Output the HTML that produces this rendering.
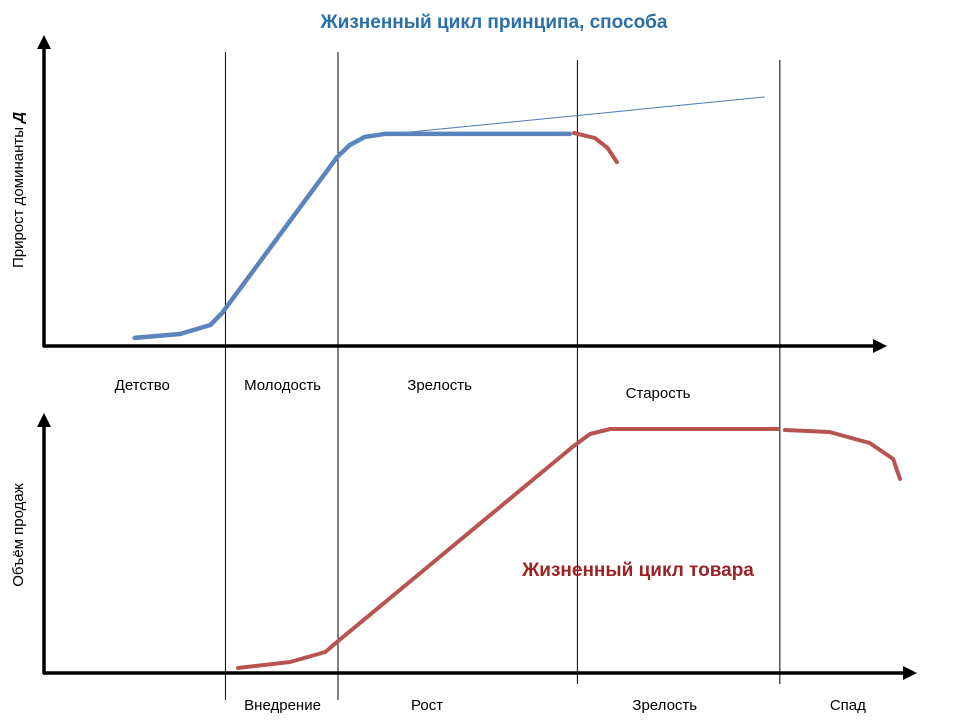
<!DOCTYPE html>
<html><head><meta charset="utf-8">
<style>
html,body{margin:0;padding:0;background:#fff;}
svg{display:block;font-family:"Liberation Sans","DejaVu Sans",sans-serif;}
</style></head>
<body>
<svg id="chart" width="960" height="720" viewBox="0 0 960 720">
<defs>
<marker id="arr" viewBox="0 0 10 10" refX="5" refY="5" markerWidth="4" markerHeight="4" orient="auto"><path d="M0,0 L10,5 L0,10 z" fill="#000"/></marker>
</defs>
<text x="494" y="28" text-anchor="middle" font-size="19" font-weight="bold" fill="#2a6fa8">Жизненный цикл принципа, способа</text>
<g id="grid"></g>
<g id="axes"></g>
<g id="series"></g>
<g id="labels"></g>
<text x="638" y="576" text-anchor="middle" font-size="19" font-weight="bold" fill="#9b2325">Жизненный цикл товара</text>
<text transform="translate(23,190) rotate(-90)" text-anchor="middle" font-size="15" fill="#000">Прирост доминанты <tspan font-weight="bold" font-style="italic">Д</tspan></text>
<text transform="translate(23,535) rotate(-90)" text-anchor="middle" font-size="15" fill="#000">Объём продаж</text>
</svg>
<script>
// data (x in 0..100 domain, y in 0..100 domain)
const blueXs=[10.8,16.2,19.8,21.2,34.9,36.4,38.2,40.6,62.6];
const blueYs=[2.7,4,7,11,63,67,69.7,70.7,70.7];
const trendXs=[42.4,85.8];
const trendYs=[71,83];
const oldXs=[63.1,65.6,67.1,68.2];
const oldYs=[71,69.3,66,61.3];
const redXs=[23.1,29.3,33.5,34.6,62.9,65,67.4,87.4];
const redYs=[2,4.4,8.4,11.6,90.4,95.6,97.6,97.6];
const declineXs=[88.2,93.5,98.3,101.1,101.9];
const declineYs=[97.2,96.4,92,85.6,77.6];
const stageBounds=[21.6,35,63.5,87.6];
const topLabels=["Детство","Молодость","Зрелость","Старость"];
const topLabelXs=[11.7,28.4,47.1,73.1];
const bottomLabels=["Внедрение","Рост","Зрелость","Спад"];
const bottomLabelXs=[28.4,45.6,73.9,95.7];

const xS=v=>44+v*8.4;
const yTop=v=>346-v*3;
const yBot=v=>673-v*2.5;
const NS="http://www.w3.org/2000/svg";
function mk(tag,attrs,parent){const e=document.createElementNS(NS,tag);for(const k in attrs)e.setAttribute(k,attrs[k]);document.getElementById(parent).appendChild(e);return e;}
function pts(xs,ys,yf){return xs.map((x,i)=>xS(x).toFixed(1)+","+yf(ys[i]).toFixed(1)).join(" ");}

// stage dividers
stageBounds.forEach((b,i)=>{
  const l=mk("line",{x1:xS(b),x2:xS(b),y1:i<2?52:60,y2:i<2?700:684,stroke:"#000","stroke-width":1},"grid");
  
  
});
// axes
let a;
a=mk("line",{x1:44,y1:347,x2:44,y2:42,stroke:"#000","stroke-width":3.5,"marker-end":"url(#arr)"},"axes");


a=mk("line",{x1:43,y1:346,x2:880,y2:346,stroke:"#000","stroke-width":3.5,"marker-end":"url(#arr)"},"axes");


a=mk("line",{x1:44,y1:674,x2:44,y2:420,stroke:"#000","stroke-width":3.5,"marker-end":"url(#arr)"},"axes");


a=mk("line",{x1:43,y1:673,x2:910,y2:673,stroke:"#000","stroke-width":3.5,"marker-end":"url(#arr)"},"axes");



// series
let s;
s=mk("polyline",{points:pts(trendXs,trendYs,yTop),fill:"none",stroke:"#4f7bb0","stroke-width":1},"series");


s=mk("polyline",{points:pts(blueXs,blueYs,yTop),fill:"none",stroke:"#5a84bb","stroke-width":4.5,"stroke-linejoin":"round","stroke-linecap":"round"},"series");


s=mk("polyline",{points:pts(oldXs,oldYs,yTop),fill:"none",stroke:"#b85450","stroke-width":4,"stroke-linejoin":"round","stroke-linecap":"round"},"series");


s=mk("polyline",{points:pts(redXs,redYs,yBot),fill:"none",stroke:"#b85450","stroke-width":4,"stroke-linejoin":"round","stroke-linecap":"round"},"series");


s=mk("polyline",{points:pts(declineXs,declineYs,yBot),fill:"none",stroke:"#b85450","stroke-width":4,"stroke-linejoin":"round","stroke-linecap":"round"},"series");



// labels
topLabels.forEach((t,i)=>{
  const e=mk("text",{x:xS(topLabelXs[i]),y:i===3?398:390,"text-anchor":"middle","font-size":15,fill:"#000"},"labels");
  e.textContent=t;
  
  
});
bottomLabels.forEach((t,i)=>{
  const e=mk("text",{x:xS(bottomLabelXs[i]),y:710,"text-anchor":"middle","font-size":15,fill:"#000"},"labels");
  e.textContent=t;
  
  
});
</script>
</body></html>
